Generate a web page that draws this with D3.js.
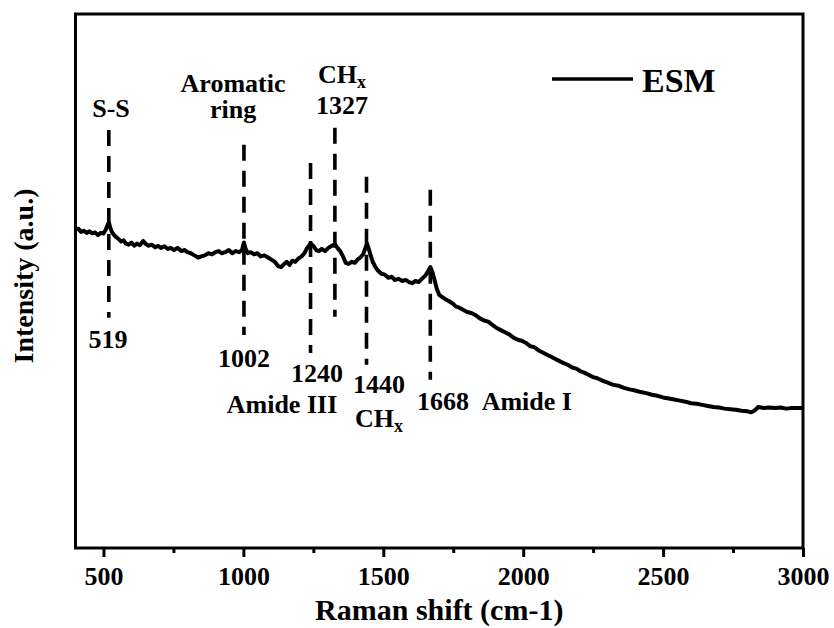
<!DOCTYPE html>
<html>
<head>
<meta charset="utf-8">
<script src="https://cdn.jsdelivr.net/npm/d3@7/dist/d3.min.js"></script>
<style>
  html, body { margin: 0; padding: 0; background: #fff; }
  svg { display: block; font-family: "Liberation Serif", "Times New Roman", serif; font-weight: bold; }
</style>
</head>
<body>
<svg id="chart" width="834" height="628"></svg>
<script>
// Raman spectrum of ESM
const shift = [
  400, 410, 420, 430, 440, 450, 460, 470, 480, 490, 500, 508, 514, 519, 524, 530, 538, 546, 555, 563,
  572, 580, 590, 600, 610, 620, 630, 642, 650, 660, 672, 685, 695, 705, 718, 730, 740, 752, 765, 778,
  790, 800, 812, 825, 838, 850, 862, 875, 888, 900, 912, 922, 935, 948, 960, 972, 985, 995, 1002, 1008,
  1016, 1026, 1038, 1050, 1062, 1075, 1088, 1100, 1112, 1124, 1135, 1146, 1155, 1165, 1175, 1185, 1196, 1208, 1218, 1228,
  1240, 1250, 1260, 1270, 1280, 1292, 1304, 1316, 1327, 1336, 1346, 1356, 1366, 1376, 1388, 1398, 1408, 1418, 1428, 1436,
  1442, 1448, 1455, 1462, 1470, 1480, 1492, 1505, 1518, 1530, 1542, 1555, 1568, 1580, 1592, 1604, 1615, 1626, 1638, 1650,
  1660, 1668, 1676, 1684, 1692, 1700, 1710, 1722, 1735, 1748, 1760, 1772, 1785, 1800, 1815, 1830, 1845, 1860, 1875, 1890,
  1905, 1920, 1935, 1950, 1965, 1980, 1995, 2010, 2025, 2040, 2055, 2070, 2085, 2100, 2115, 2130, 2145, 2160, 2175, 2190,
  2205, 2220, 2235, 2250, 2265, 2280, 2300, 2320, 2340, 2360, 2380, 2400, 2420, 2440, 2460, 2480, 2500, 2520, 2540, 2560,
  2580, 2600, 2620, 2640, 2660, 2680, 2700, 2720, 2740, 2760, 2780, 2800, 2815, 2828, 2840, 2860, 2880, 2900, 2920, 2940,
  2960, 2980, 3000
];
const intensity = [
  596, 598, 592, 594, 590, 593, 589, 591, 586, 590, 589, 596, 604, 610, 600, 592, 586, 582, 578, 574,
  576, 570, 568, 572, 566, 570, 567, 575, 570, 566, 568, 563, 566, 562, 565, 560, 562, 558, 562, 556,
  558, 554, 552, 548, 544, 546, 548, 552, 550, 554, 556, 552, 554, 558, 552, 556, 554, 558, 572, 560,
  552, 554, 550, 552, 546, 548, 544, 540, 536, 528, 526, 532, 536, 530, 538, 536, 542, 546, 552, 562,
  570, 566, 558, 556, 560, 556, 562, 566, 569, 562, 556, 546, 534, 532, 536, 534, 540, 544, 550, 562,
  570, 560, 548, 536, 528, 520, 514, 512, 506, 508, 502, 504, 500, 502, 498, 496, 500, 498, 504, 510,
  518, 526, 516, 500, 484, 474, 470, 466, 462, 458, 452, 450, 446, 442, 440, 436, 430, 426, 424, 418,
  412, 408, 404, 400, 394, 390, 388, 384, 378, 376, 370, 366, 362, 358, 354, 350, 346, 343, 338, 336,
  331, 328, 324, 320, 318, 314, 310, 306, 304, 300, 297, 295, 292, 290, 287, 285, 282, 280, 278, 276,
  274, 271, 270, 268, 266, 264, 263, 261, 260, 259, 257, 256, 254, 258, 264, 262, 263, 262, 263, 261,
  262, 262, 262
];

// Assigned bands: position and extent of the marker line (intensity units)
const bandShift = [519, 1002, 1240, 1327, 1440, 1668];
const bandTop = [783, 755, 721, 787, 695, 671];
const bandBottom = [431, 399, 365, 433, 343, 315];

const xTicks = [500, 1000, 1500, 2000, 2500, 3000];
const xMinorTicks = [750, 1250, 1750, 2250, 2750];
const seriesName = "ESM";

const svg = d3.select("#chart");
const plot = { left: 75.5, right: 803, top: 14, bottom: 548 };

const x = d3.scaleLinear().domain([400, 3000]).range([plot.left, plot.right]);
const y = d3.scaleLinear().domain([0, 1000]).range([plot.bottom, plot.top]);

// Spectrum trace
const points = shift.map((s, i) => [s, intensity[i]]);
svg.append("path")
  .datum(points)
  .attr("fill", "none")
  .attr("stroke", "#000")
  .attr("stroke-width", 4)
  .attr("stroke-linejoin", "round")
  .attr("d", d3.line().x(d => x(d[0])).y(d => y(d[1])));

// Dashed band markers
svg.append("g").selectAll("line")
  .data(bandShift)
  .join("line")
  .attr("x1", d => x(d)).attr("x2", d => x(d))
  .attr("y1", (d, i) => y(bandTop[i]))
  .attr("y2", (d, i) => y(bandBottom[i]))
  .attr("stroke", "#000")
  .attr("stroke-width", 3.6)
  .attr("stroke-dasharray", "16 10");

// Band labels: [lines of text, centre shift, first baseline y]
const labels = [
  [["S-S"], 527, 117],
  [["Aromatic", "ring"], 963, 92],
  [["1327"], 1352, 114],
  [["519"], 516, 348],
  [["1002"], 1002, 367],
  [["1240"], 1263, 382],
  [["Amide III"], 1138, 413],
  [["1440"], 1485, 393],
  [["1668"], 1713, 410],
  [["Amide I"], 2013, 410]
];
svg.append("g").selectAll("text")
  .data(labels)
  .join("text")
  .attr("x", d => x(d[1]))
  .attr("y", d => d[2])
  .attr("text-anchor", "middle")
  .attr("font-size", 26)
  .each(function (d) {
    const t = d3.select(this);
    d[0].forEach((line, i) => {
      t.append("tspan")
        .attr("x", x(d[1]))
        .attr("dy", i === 0 ? 0 : 26)
        .text(line);
    });
  });

// CHx labels with subscript
const chLabels = [[1352, 83], [1485, 427]];
chLabels.forEach(([s, yy]) => {
  const t = svg.append("text")
    .attr("x", x(s))
    .attr("y", yy)
    .attr("text-anchor", "middle")
    .attr("font-size", 26);
  t.append("tspan").text("CH");
  t.append("tspan").attr("font-size", 18).attr("dy", 5).text("x");
});

// Frame
svg.append("rect")
  .attr("x", plot.left).attr("y", plot.top)
  .attr("width", plot.right - plot.left)
  .attr("height", plot.bottom - plot.top)
  .attr("fill", "none")
  .attr("stroke", "#000")
  .attr("stroke-width", 3);

// Bottom axis: major and minor ticks
const xAxis = svg.append("g")
  .attr("transform", `translate(0,${plot.bottom})`)
  .call(d3.axisBottom(x).tickValues(xTicks).tickSize(9).tickPadding(10).tickFormat(d3.format("d")));
xAxis.select(".domain").remove();
xAxis.selectAll(".tick line").attr("stroke-width", 3);
xAxis.selectAll(".tick text")
  .attr("font-family", "Liberation Serif, Times New Roman, serif")
  .attr("font-weight", "bold")
  .attr("font-size", 26)
  .attr("fill", "#000");

const xMinor = svg.append("g")
  .attr("transform", `translate(0,${plot.bottom})`)
  .call(d3.axisBottom(x).tickValues(xMinorTicks).tickSize(5).tickFormat(""));
xMinor.select(".domain").remove();
xMinor.selectAll(".tick line").attr("stroke-width", 3);

// Axis titles
svg.append("text")
  .attr("x", (plot.left + plot.right) / 2)
  .attr("y", 620)
  .attr("text-anchor", "middle")
  .attr("font-size", 30)
  .text("Raman shift (cm-1)");

svg.append("text")
  .attr("transform", "translate(33,276) rotate(-90)")
  .attr("text-anchor", "middle")
  .attr("font-size", 28)
  .text("Intensity (a.u.)");

// Legend
svg.append("line")
  .attr("x1", 552).attr("x2", 633)
  .attr("y1", 79).attr("y2", 79)
  .attr("stroke", "#000")
  .attr("stroke-width", 3.4);
svg.append("text")
  .attr("x", 642).attr("y", 92)
  .attr("font-size", 34)
  .text(seriesName);
</script>
</body>
</html>
